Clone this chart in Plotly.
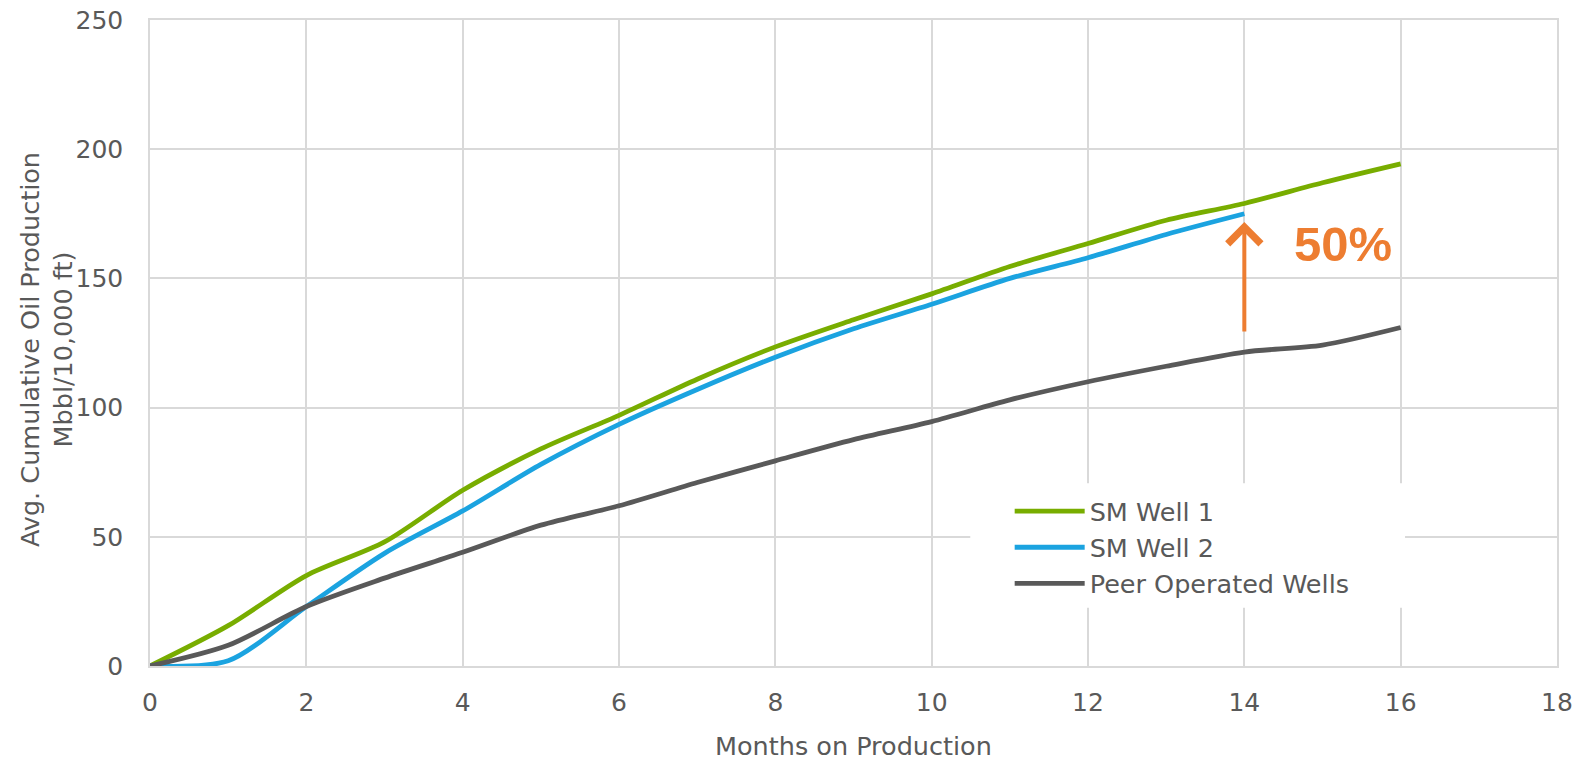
import plotly.graph_objects as go

months = list(range(0, 17))
sm_well_1 = [0, 15.6, 35, 48, 68, 84, 97, 111, 123.5, 134, 144, 154.6, 163.5, 172.5, 179, 187, 194.3]
months_2 = list(range(0, 15))
sm_well_2 = [0, 2, 23, 43.6, 60, 78, 93.5, 107, 119.5, 130.5, 140, 150, 158, 167, 175]
peer_wells = [0, 8, 23, 34, 44, 54.5, 62, 71, 79.4, 87.6, 94.6, 103, 110, 116, 121.5, 124.2, 131]

arrow_x = 14
arrow_from = 128.9
arrow_to = 171.8
label_text = "50%"
label_x = 15.26
label_y = 163.5

x_title = "Months on Production"
y_title = "Avg. Cumulative Oil Production<br>Mbbl/10,000 ft)"

FONT = "'DejaVu Sans', 'Open Sans', sans-serif"
TXT = "#595959"

fig = go.Figure()
fig.add_trace(go.Scatter(x=months, y=sm_well_1, name="SM Well 1", mode="lines", legendgroup="a",
                         line=dict(color="#78AD00", width=4.8, shape="spline", smoothing=0.8)))
fig.add_trace(go.Scatter(x=months_2, y=sm_well_2, name="SM Well 2", mode="lines", legendgroup="b",
                         line=dict(color="#1BA3E0", width=4.8, shape="spline", smoothing=0.8)))
fig.add_trace(go.Scatter(x=months, y=peer_wells, name="Peer Operated Wells", mode="lines", legendgroup="c",
                         line=dict(color="#595959", width=4.8, shape="spline", smoothing=0.8)))

# white legend backdrop (covers gridlines like the reference)
fig.add_shape(type="rect", xref="paper", yref="paper", x0=0.583, x1=0.892, y0=0.09, y1=0.283,
              fillcolor="white", line=dict(width=0), layer="above")

fig.add_annotation(x=arrow_x, y=arrow_to, ax=arrow_x, ay=arrow_from, xref="x", yref="y",
                   axref="x", ayref="y", showarrow=True, arrowhead=4, arrowsize=1.6,
                   arrowwidth=4, arrowcolor="#ED7D31", text="")
fig.add_annotation(x=label_x, y=label_y, xref="x", yref="y", text="<b>" + label_text + "</b>",
                   showarrow=False,
                   font=dict(size=49, color="#ED7D31", family="'Liberation Sans', Arial, sans-serif"))

# axis titles
fig.add_annotation(x=0.5, y=0, xref="paper", yref="paper", xanchor="center", yanchor="middle",
                   yshift=-80, text=x_title, showarrow=False,
                   font=dict(size=25.5, color=TXT, family=FONT))
fig.add_annotation(x=0, y=0.489, xref="paper", yref="paper", xanchor="center", yanchor="middle",
                   xshift=-104, text=y_title, textangle=-90, showarrow=False,
                   font=dict(size=25.5, color=TXT, family=FONT))

fig.update_layout(
    width=1577, height=761,
    margin=dict(l=150, r=20, t=20, b=95),
    plot_bgcolor="white", paper_bgcolor="white",
    font=dict(family=FONT, size=25, color=TXT),
    showlegend=True,
    legend=dict(x=0.611, y=0.2755, xanchor="left", yanchor="top", bgcolor="white",
                font=dict(size=25.5, color=TXT, family=FONT), itemwidth=70,
                borderwidth=0, tracegroupgap=0),
    xaxis=dict(range=[0, 18], dtick=2, showgrid=True, gridcolor="#D9D9D9", gridwidth=1.5,
               zeroline=False, showline=True, linecolor="#D9D9D9", linewidth=1.5, mirror=True,
               ticks="", ticklabelstandoff=13, ticklabeloverflow="allow", automargin=False,
               tickfont=dict(size=25, color=TXT)),
    yaxis=dict(range=[0, 250], dtick=50, showgrid=True, gridcolor="#D9D9D9", gridwidth=1.5,
               zeroline=False, showline=True, linecolor="#D9D9D9", linewidth=1.5, mirror=True,
               ticks="", ticklabelstandoff=20, ticklabeloverflow="allow", automargin=False,
               tickfont=dict(size=25, color=TXT)),
)

fig.write_html("out.html", config={"displayModeBar": False},
               post_script="document.body.style.margin='0px';")
